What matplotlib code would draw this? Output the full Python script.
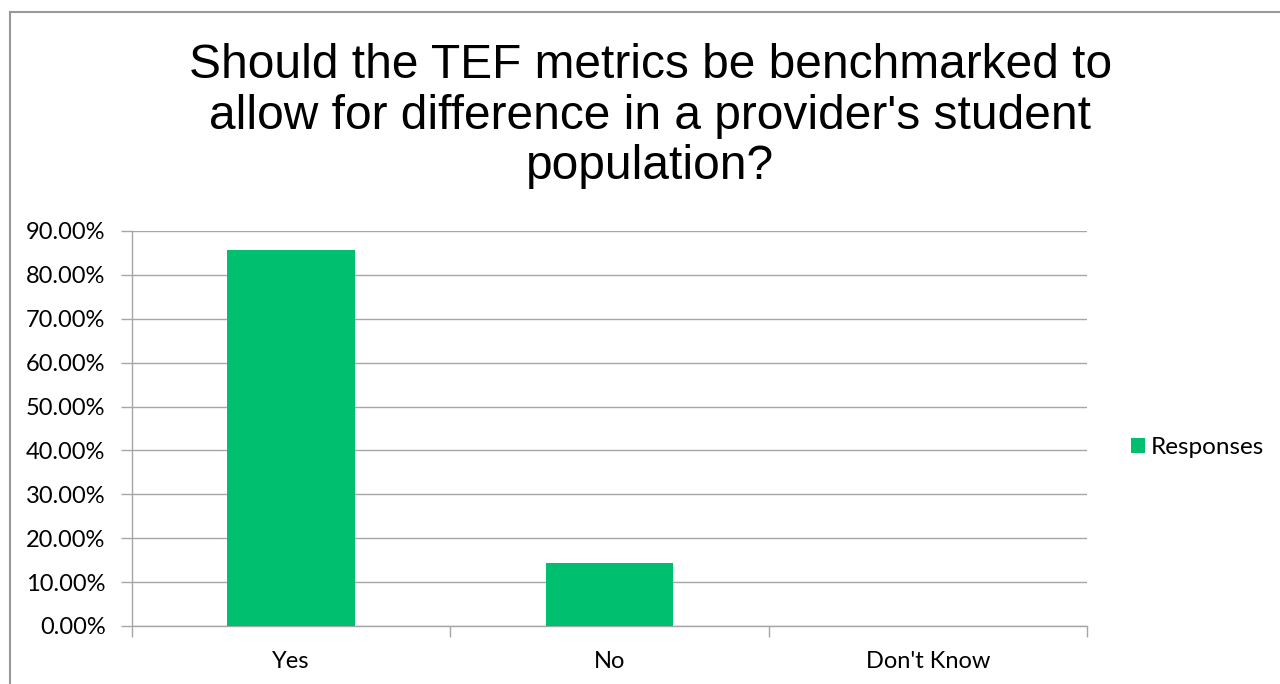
import matplotlib
matplotlib.use("Agg")
from matplotlib import pyplot as plt
from matplotlib.lines import Line2D
from matplotlib.ticker import FuncFormatter, MultipleLocator

categories = ["Yes", "No", "Don't Know"]
responses = [0.8571, 0.1429, 0.0]
series_name = "Responses"
title = "Should the TEF metrics be benchmarked to\nallow for difference in a provider's student\npopulation?"

GREEN = "#00c070"
GRID = "#a6a6a6"
LABEL_FONT = ["Lato", "DejaVu Sans"]


def main():
    fig = plt.figure(figsize=(12.8, 6.84), dpi=100)
    ax = fig.add_axes([0.1031, 0.0848, 0.7461, 0.5775])

    x = range(len(categories))
    ax.bar(x, responses, width=0.4, color=GREEN, label=series_name, zorder=3)

    ax.set_xlim(-0.5, len(categories) - 0.5)
    ax.set_ylim(0, 0.9)
    ax.yaxis.set_major_locator(MultipleLocator(0.1))
    ax.yaxis.set_major_formatter(FuncFormatter(lambda v, _: f"{v * 100:.2f}%"))
    ax.grid(axis="y", color=GRID, linewidth=1, zorder=0)

    # category labels in the middle, tick marks on the boundaries
    ax.set_xticks(list(x))
    ax.set_xticklabels(categories, family=LABEL_FONT, fontsize=17)
    ax.tick_params(axis="x", length=0, pad=18)
    ax.set_xticks([i - 0.5 for i in range(len(categories) + 1)], minor=True)
    ax.tick_params(axis="x", which="minor", length=8, color=GRID, width=1)
    ax.tick_params(axis="y", length=8, color=GRID, width=1, pad=11)
    for lbl in ax.get_yticklabels():
        lbl.set_family(LABEL_FONT)
        lbl.set_fontsize(17)

    for side in ("top", "right"):
        ax.spines[side].set_visible(False)
    for side in ("left", "bottom"):
        ax.spines[side].set_color(GRID)
        ax.spines[side].set_linewidth(1)

    fig.text(0.508, 0.937, title, ha="center", va="top", fontsize=34.5,
             family=["Liberation Sans", "DejaVu Sans"], linespacing=1.16)

    fig.legend(loc="center left", bbox_to_anchor=(0.8836, 0.346),
               frameon=False, borderpad=0, borderaxespad=0,
               handlelength=0.58, handleheight=0.58, handletextpad=0.25,
               prop={"family": LABEL_FONT, "size": 17.5})

    # chart area border running off the right and bottom edges
    fig.add_artist(Line2D([0.008, 1.0], [0.982, 0.982], color="#999999", lw=1.5))
    fig.add_artist(Line2D([0.008, 0.008], [0.0, 0.982], color="#999999", lw=1.5))

    fig.savefig("out.png", dpi=100)


if __name__ == '__main__':
    main()
